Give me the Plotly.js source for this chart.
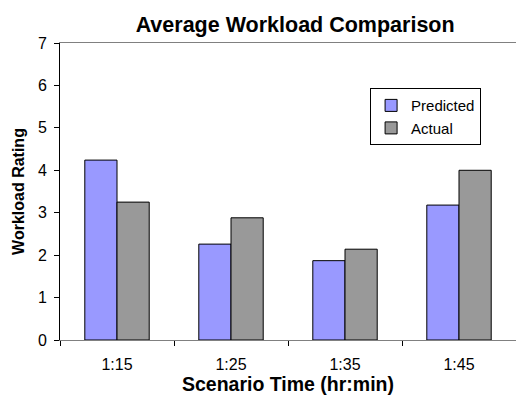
<!DOCTYPE html>
<html>
<head>
<meta charset="utf-8">
<script src="https://cdn.plot.ly/plotly-3.0.1.min.js"></script>
<style>html,body{margin:0;padding:0;background:#fff;}#chart{width:516px;height:400px;}</style>
</head>
<body>
<div id="chart"></div>
<script>
var categories = ["1:15", "1:25", "1:35", "1:45"];
var predicted = [4.24, 2.26, 1.87, 3.18];
var actual = [3.25, 2.88, 2.14, 4.0];

var traces = [
  {type: "bar", name: "Predicted", x: categories, y: predicted, legendgroup: "p",
   marker: {color: "#9999ff", line: {color: "#000000", width: 1}}},
  {type: "bar", name: "Actual", x: categories, y: actual, legendgroup: "a",
   marker: {color: "#999999", line: {color: "#000000", width: 1}}}
];

var layout = {
  width: 516, height: 400,
  margin: {l: 60, r: 0, t: 43, b: 60},
  paper_bgcolor: "#ffffff", plot_bgcolor: "#ffffff",
  font: {family: "Liberation Sans, Arial, sans-serif", size: 15, color: "#000"},
  title: {text: "Average Workload Comparison", font: {size: 21.5, weight: "bold"},
          x: 0.572, xanchor: "center", y: 0.94, yanchor: "middle"},
  barmode: "group", bargap: 0.435, bargroupgap: 0,
  showlegend: true,
  legend: {x: 0.68, xanchor: "left", y: 0.848, yanchor: "top", bordercolor: "#000", borderwidth: 1,
           bgcolor: "#fff", traceorder: "grouped", tracegroupgap: 0, font: {size: 15}},
  xaxis: {type: "category", range: [-0.5, 3.5], showline: true, linecolor: "#808080", linewidth: 1,
          mirror: true, ticks: "outside", tickson: "boundaries", ticklen: 5, tickcolor: "#000",
          showgrid: false, zeroline: false, tickfont: {size: 16}, ticklabelstandoff: 10,
          title: {text: "Scenario Time (hr:min)", font: {size: 19.5, weight: "bold"}, standoff: 4}},
  yaxis: {range: [0, 7], dtick: 1, showline: true, linecolor: "#000", linewidth: 1,
          ticks: "outside", ticklen: 5, tickcolor: "#000", showgrid: false, zeroline: false,
          tickfont: {size: 16}, ticklabelstandoff: 4,
          title: {text: "Workload Rating", font: {size: 16, weight: "bold"}, standoff: 9}}
};

Plotly.newPlot("chart", traces, layout, {displayModeBar: false, staticPlot: true});
</script>
</body>
</html>
